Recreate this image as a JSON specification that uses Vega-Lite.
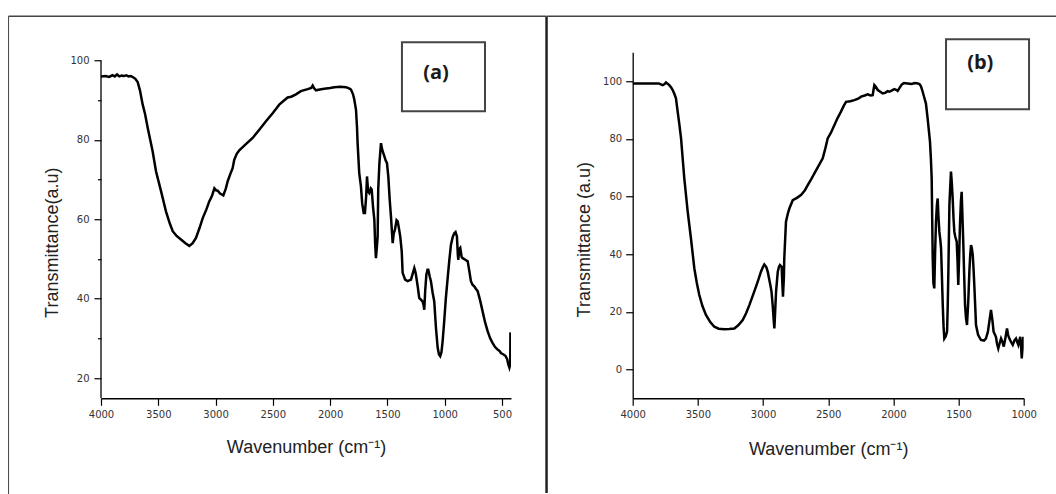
{
  "$schema": "https://vega.github.io/schema/vega-lite/v6.json",
  "background": "white",
  "padding": {"left": 7, "top": 14.25, "right": 0, "bottom": 0},
  "config": {
    "view": {"stroke": null},
    "axis": {
      "grid": false,
      "domainColor": "#000",
      "domainWidth": 1.3,
      "tickColor": "#000",
      "tickWidth": 1.2,
      "labelFont": "DejaVu Sans",
      "labelFontSize": 10,
      "labelColor": "#333",
      "labelOverlap": false,
      "labelFlush": false,
      "titleFont": "Liberation Sans",
      "titleFontSize": 18,
      "titleFontWeight": "normal",
      "titleColor": "#222"
    }
  },
  "datasets": {
    "a": [
      {"w":4000,"t":96.0},{"w":3960,"t":96.1},{"w":3930,"t":95.9},{"w":3900,"t":96.3},{"w":3880,"t":96.0},{"w":3860,"t":96.5},{"w":3840,"t":96.0},{"w":3820,"t":96.2},{"w":3800,"t":96.1},{"w":3780,"t":96.3},{"w":3760,"t":96.0},{"w":3740,"t":96.1},{"w":3720,"t":95.8},{"w":3700,"t":95.4},{"w":3680,"t":94.6},{"w":3660,"t":92.5},{"w":3636,"t":88.9},{"w":3615,"t":86.5},{"w":3592,"t":83.0},{"w":3570,"t":80.0},{"w":3549,"t":77.1},{"w":3520,"t":72.1},{"w":3476,"t":67.1},{"w":3433,"t":62.0},{"w":3400,"t":59.0},{"w":3374,"t":57.0},{"w":3340,"t":55.8},{"w":3302,"t":54.9},{"w":3260,"t":53.9},{"w":3229,"t":53.3},{"w":3200,"t":54.0},{"w":3171,"t":55.3},{"w":3140,"t":57.8},{"w":3112,"t":60.3},{"w":3080,"t":62.5},{"w":3055,"t":64.5},{"w":3030,"t":66.0},{"w":3010,"t":67.8},{"w":2995,"t":67.3},{"w":2982,"t":67.2},{"w":2960,"t":66.5},{"w":2932,"t":66.0},{"w":2910,"t":67.8},{"w":2894,"t":69.6},{"w":2870,"t":71.5},{"w":2851,"t":72.9},{"w":2837,"t":75.0},{"w":2815,"t":76.5},{"w":2793,"t":77.4},{"w":2740,"t":78.8},{"w":2676,"t":80.5},{"w":2620,"t":82.5},{"w":2560,"t":84.7},{"w":2500,"t":86.8},{"w":2444,"t":88.9},{"w":2400,"t":90.0},{"w":2371,"t":90.7},{"w":2340,"t":90.9},{"w":2298,"t":91.5},{"w":2255,"t":92.3},{"w":2196,"t":92.8},{"w":2165,"t":93.1},{"w":2152,"t":93.7},{"w":2140,"t":93.0},{"w":2123,"t":92.5},{"w":2090,"t":92.7},{"w":2051,"t":92.9},{"w":2000,"t":93.1},{"w":1964,"t":93.3},{"w":1910,"t":93.4},{"w":1862,"t":93.3},{"w":1835,"t":93.0},{"w":1818,"t":92.7},{"w":1800,"t":91.5},{"w":1789,"t":90.2},{"w":1774,"t":87.6},{"w":1765,"t":83.0},{"w":1760,"t":79.2},{"w":1746,"t":71.7},{"w":1731,"t":68.3},{"w":1720,"t":64.0},{"w":1707,"t":61.6},{"w":1696,"t":61.6},{"w":1685,"t":66.0},{"w":1678,"t":70.8},{"w":1668,"t":67.0},{"w":1658,"t":66.6},{"w":1645,"t":67.8},{"w":1637,"t":67.5},{"w":1625,"t":63.0},{"w":1614,"t":59.9},{"w":1607,"t":54.0},{"w":1600,"t":50.2},{"w":1592,"t":53.0},{"w":1585,"t":55.7},{"w":1580,"t":67.5},{"w":1570,"t":74.0},{"w":1556,"t":79.2},{"w":1545,"t":77.5},{"w":1527,"t":75.9},{"w":1515,"t":74.8},{"w":1504,"t":74.2},{"w":1492,"t":70.8},{"w":1480,"t":65.0},{"w":1469,"t":60.8},{"w":1454,"t":54.0},{"w":1444,"t":56.5},{"w":1434,"t":57.4},{"w":1420,"t":59.8},{"w":1410,"t":59.5},{"w":1398,"t":57.5},{"w":1388,"t":55.7},{"w":1375,"t":52.0},{"w":1367,"t":46.5},{"w":1345,"t":44.8},{"w":1323,"t":44.4},{"w":1294,"t":44.8},{"w":1265,"t":47.7},{"w":1258,"t":47.0},{"w":1251,"t":46.1},{"w":1235,"t":43.0},{"w":1222,"t":40.2},{"w":1193,"t":39.3},{"w":1185,"t":38.5},{"w":1178,"t":37.2},{"w":1170,"t":42.0},{"w":1160,"t":46.0},{"w":1150,"t":47.3},{"w":1143,"t":47.3},{"w":1130,"t":45.5},{"w":1120,"t":44.4},{"w":1105,"t":41.5},{"w":1091,"t":39.3},{"w":1076,"t":32.6},{"w":1061,"t":27.6},{"w":1050,"t":26.0},{"w":1039,"t":25.5},{"w":1028,"t":26.5},{"w":1018,"t":29.2},{"w":1004,"t":34.3},{"w":990,"t":40.0},{"w":974,"t":45.2},{"w":960,"t":49.5},{"w":945,"t":53.6},{"w":930,"t":55.5},{"w":916,"t":56.5},{"w":905,"t":56.8},{"w":893,"t":55.7},{"w":885,"t":51.0},{"w":881,"t":49.8},{"w":872,"t":52.5},{"w":864,"t":52.8},{"w":852,"t":50.5},{"w":843,"t":50.2},{"w":820,"t":49.8},{"w":799,"t":49.4},{"w":785,"t":47.0},{"w":771,"t":44.4},{"w":757,"t":43.5},{"w":742,"t":43.1},{"w":728,"t":42.5},{"w":712,"t":41.9},{"w":690,"t":39.5},{"w":669,"t":36.8},{"w":647,"t":34.0},{"w":625,"t":31.8},{"w":603,"t":30.0},{"w":581,"t":28.8},{"w":560,"t":27.8},{"w":538,"t":27.2},{"w":520,"t":26.8},{"w":509,"t":26.3},{"w":490,"t":26.0},{"w":470,"t":25.6},{"w":455,"t":24.8},{"w":445,"t":23.5},{"w":435,"t":22.6},{"w":430,"t":23.2},{"w":428,"t":22.8},{"w":426,"t":31.5}
    ],
    "b": [
      {"w":4000,"t":99.2},{"w":3900,"t":99.2},{"w":3800,"t":99.2},{"w":3780,"t":98.8},{"w":3770,"t":98.6},{"w":3755,"t":99.0},{"w":3745,"t":99.5},{"w":3730,"t":99.0},{"w":3719,"t":98.6},{"w":3705,"t":97.8},{"w":3693,"t":96.9},{"w":3680,"t":95.5},{"w":3668,"t":94.0},{"w":3655,"t":89.4},{"w":3642,"t":85.0},{"w":3629,"t":80.1},{"w":3604,"t":66.2},{"w":3578,"t":54.7},{"w":3553,"t":45.4},{"w":3527,"t":35.0},{"w":3508,"t":30.0},{"w":3489,"t":25.8},{"w":3465,"t":22.0},{"w":3438,"t":18.9},{"w":3405,"t":16.4},{"w":3374,"t":14.8},{"w":3340,"t":14.1},{"w":3297,"t":13.9},{"w":3260,"t":14.0},{"w":3220,"t":14.2},{"w":3190,"t":15.3},{"w":3156,"t":17.1},{"w":3130,"t":19.5},{"w":3105,"t":22.3},{"w":3080,"t":25.4},{"w":3054,"t":28.7},{"w":3035,"t":31.2},{"w":3016,"t":33.9},{"w":3000,"t":35.6},{"w":2990,"t":36.4},{"w":2975,"t":35.5},{"w":2964,"t":33.9},{"w":2944,"t":29.3},{"w":2935,"t":27.0},{"w":2926,"t":22.3},{"w":2918,"t":17.0},{"w":2913,"t":14.2},{"w":2907,"t":20.0},{"w":2900,"t":27.0},{"w":2887,"t":33.9},{"w":2878,"t":35.5},{"w":2870,"t":36.2},{"w":2857,"t":35.6},{"w":2852,"t":30.0},{"w":2847,"t":25.2},{"w":2840,"t":32.0},{"w":2837,"t":38.5},{"w":2824,"t":51.2},{"w":2810,"t":54.0},{"w":2798,"t":55.8},{"w":2772,"t":58.7},{"w":2740,"t":59.5},{"w":2709,"t":60.5},{"w":2680,"t":62.0},{"w":2657,"t":63.9},{"w":2630,"t":66.0},{"w":2606,"t":68.0},{"w":2575,"t":70.5},{"w":2542,"t":73.2},{"w":2520,"t":77.0},{"w":2504,"t":80.1},{"w":2480,"t":82.0},{"w":2453,"t":84.7},{"w":2430,"t":87.0},{"w":2402,"t":89.4},{"w":2380,"t":91.5},{"w":2363,"t":92.8},{"w":2330,"t":93.0},{"w":2300,"t":93.4},{"w":2270,"t":93.9},{"w":2248,"t":94.6},{"w":2220,"t":95.0},{"w":2197,"t":95.4},{"w":2175,"t":95.0},{"w":2159,"t":95.1},{"w":2152,"t":97.0},{"w":2146,"t":98.6},{"w":2135,"t":98.0},{"w":2120,"t":96.9},{"w":2100,"t":96.3},{"w":2082,"t":95.7},{"w":2060,"t":96.0},{"w":2044,"t":96.5},{"w":2031,"t":96.3},{"w":2010,"t":96.8},{"w":1993,"t":97.2},{"w":1975,"t":96.9},{"w":1967,"t":96.6},{"w":1950,"t":97.8},{"w":1936,"t":98.8},{"w":1920,"t":99.3},{"w":1890,"t":99.2},{"w":1860,"t":99.0},{"w":1835,"t":99.3},{"w":1813,"t":99.2},{"w":1800,"t":99.0},{"w":1788,"t":98.2},{"w":1775,"t":96.3},{"w":1763,"t":94.3},{"w":1750,"t":92.2},{"w":1737,"t":87.0},{"w":1728,"t":83.0},{"w":1719,"t":79.0},{"w":1712,"t":73.0},{"w":1706,"t":66.2},{"w":1702,"t":52.0},{"w":1698,"t":38.5},{"w":1693,"t":30.0},{"w":1686,"t":28.1},{"w":1680,"t":40.0},{"w":1673,"t":51.2},{"w":1666,"t":57.0},{"w":1660,"t":59.3},{"w":1654,"t":53.0},{"w":1647,"t":47.7},{"w":1640,"t":45.0},{"w":1634,"t":42.0},{"w":1628,"t":33.0},{"w":1621,"t":22.3},{"w":1615,"t":15.0},{"w":1609,"t":10.7},{"w":1598,"t":11.5},{"w":1588,"t":13.1},{"w":1583,"t":22.0},{"w":1578,"t":33.9},{"w":1570,"t":57.0},{"w":1563,"t":64.0},{"w":1558,"t":68.6},{"w":1552,"t":65.0},{"w":1545,"t":59.3},{"w":1538,"t":52.0},{"w":1532,"t":47.7},{"w":1525,"t":46.0},{"w":1514,"t":44.3},{"w":1508,"t":38.0},{"w":1502,"t":29.3},{"w":1496,"t":38.0},{"w":1489,"t":50.1},{"w":1482,"t":58.0},{"w":1476,"t":61.6},{"w":1470,"t":53.0},{"w":1463,"t":43.1},{"w":1457,"t":33.0},{"w":1450,"t":22.3},{"w":1443,"t":18.0},{"w":1435,"t":15.4},{"w":1425,"t":24.0},{"w":1417,"t":33.9},{"w":1410,"t":40.0},{"w":1404,"t":43.1},{"w":1398,"t":42.0},{"w":1391,"t":39.7},{"w":1385,"t":35.0},{"w":1379,"t":29.3},{"w":1372,"t":22.0},{"w":1366,"t":15.4},{"w":1350,"t":12.0},{"w":1328,"t":10.2},{"w":1305,"t":10.0},{"w":1290,"t":10.7},{"w":1275,"t":13.0},{"w":1264,"t":16.5},{"w":1251,"t":20.6},{"w":1240,"t":17.0},{"w":1231,"t":13.1},{"w":1213,"t":11.3},{"w":1205,"t":9.0},{"w":1195,"t":7.3},{"w":1185,"t":9.0},{"w":1174,"t":10.7},{"w":1163,"t":9.5},{"w":1153,"t":7.9},{"w":1140,"t":11.0},{"w":1128,"t":14.2},{"w":1120,"t":12.0},{"w":1110,"t":10.7},{"w":1097,"t":9.5},{"w":1084,"t":8.5},{"w":1072,"t":10.0},{"w":1059,"t":10.7},{"w":1050,"t":9.5},{"w":1041,"t":8.5},{"w":1034,"t":10.0},{"w":1026,"t":11.3},{"w":1020,"t":8.0},{"w":1015,"t":3.8},{"w":1008,"t":7.0},{"w":1003,"t":11.3}
    ]
  },
  "hconcat": [
    {
      "width": 410,
      "height": 346,
      "layer": [
        {
          "data": {"name": "a"},
          "mark": {"type": "line", "color": "#000", "strokeWidth": 2.5, "clip": true},
          "encoding": {
            "x": {
              "field": "w", "type": "quantitative",
              "scale": {"domain": [421, 4000], "reverse": true, "nice": false, "zero": false},
              "axis": {
                "title": "Wavenumber (cm⁻¹)",
                "values": [4000,3750,3500,3250,3000,2750,2500,2250,2000,1750,1500,1250,1000,750,500],
                "format": "d",
                "labelExpr": "datum.value % 500 === 0 ? datum.label : ''",
                "tickSize": {"condition": {"test": "datum.value % 500 === 0", "value": 7}, "value": 3.5},
                "labelPadding": 4,
                "titleY": 49,
                "titleBaseline": "middle"
              }
            },
            "y": {
              "field": "t", "type": "quantitative",
              "scale": {"domain": [14.9, 102.1], "nice": false, "zero": false},
              "axis": {
                "title": "Transmittance(a.u)",
                "domain": false,
                "values": [20,30,40,50,60,70,80,90,100],
                "labelExpr": "datum.value % 20 === 0 ? datum.label : ''",
                "tickSize": {"condition": {"test": "datum.value % 20 === 0", "value": 7}, "value": 3.5},
                "labelPadding": 5,
                "titleX": -49,
                "titleY": 190,
                "titleAlign": "center",
                "titleBaseline": "middle",
                "titleAngle": -90
              }
            }
          }
        },
        {
          "data": {"values": [{}]},
          "mark": {"type": "rule", "color": "#000", "strokeWidth": 1.3},
          "encoding": {
            "x": {"datum": 4000, "type": "quantitative"},
            "y": {"datum": 14.9, "type": "quantitative"},
            "y2": {"datum": 100}
          }
        },
        {
          "data": {"values": [{}]},
          "mark": {"type": "rule", "color": "#444", "strokeWidth": 1},
          "encoding": {
            "x": {"datum": 4807, "type": "quantitative"},
            "y": {"datum": 111.2, "type": "quantitative"},
            "y2": {"datum": -9.3}
          }
        },
        {
          "data": {"values": [{}]},
          "mark": {"type": "rule", "color": "#444", "strokeWidth": 1.5},
          "encoding": {
            "x": {"datum": 4807, "type": "quantitative"},
            "x2": {"datum": 116},
            "y": {"datum": 111.2, "type": "quantitative"}
          }
        },
        {
          "data": {"values": [{}]},
          "mark": {"type": "rect", "filled": false, "stroke": "#444", "strokeWidth": 2},
          "encoding": {
            "x": {"datum": 1373, "type": "quantitative"},
            "x2": {"datum": 648},
            "y": {"datum": 104.6, "type": "quantitative"},
            "y2": {"datum": 87.2}
          }
        },
        {
          "data": {"values": [{}]},
          "mark": {"type": "text", "text": "(a)", "font": "Open Sans", "fontWeight": "bold", "fontSize": 20, "color": "#1a1a1a", "align": "center", "baseline": "middle"},
          "encoding": {
            "x": {"datum": 1076, "type": "quantitative"},
            "y": {"datum": 96.9, "type": "quantitative"}
          }
        }
      ]
    },
    {
      "width": 391,
      "height": 346,
      "layer": [
        {
          "data": {"name": "b"},
          "mark": {"type": "line", "color": "#000", "strokeWidth": 2.5, "clip": true},
          "encoding": {
            "x": {
              "field": "w", "type": "quantitative",
              "scale": {"domain": [1000, 4000], "reverse": true, "nice": false, "zero": false},
              "axis": {
                "title": "Wavenumber (cm⁻¹)",
                "values": [4000,3750,3500,3250,3000,2750,2500,2250,2000,1750,1500,1250,1000],
                "format": "d",
                "labelExpr": "datum.value % 500 === 0 ? datum.label : ''",
                "tickSize": {"condition": {"test": "datum.value % 500 === 0", "value": 7}, "value": 3.5},
                "labelPadding": 4,
                "titleY": 51,
                "titleBaseline": "middle"
              }
            },
            "y": {
              "field": "t", "type": "quantitative",
              "scale": {"domain": [-10, 110], "nice": false, "zero": false},
              "axis": {
                "title": "Transmittance (a.u)",
                "values": [0,10,20,30,40,50,60,70,80,90,100,110],
                "labelExpr": "datum.value % 20 === 0 && datum.value <= 100 ? datum.label : ''",
                "tickSize": {"condition": {"test": "datum.value % 20 === 0 && datum.value <= 100", "value": 7}, "value": 3.5},
                "labelPadding": 4,
                "titleX": -48,
                "titleY": 187,
                "titleAlign": "center",
                "titleBaseline": "middle",
                "titleAngle": -90
              }
            }
          }
        },
        {
          "data": {"values": [{}]},
          "mark": {"type": "rule", "color": "#222", "strokeWidth": 2.5},
          "encoding": {
            "x": {"datum": 4661, "type": "quantitative"},
            "y": {"datum": 122.5, "type": "quantitative"},
            "y2": {"datum": -42.9}
          }
        },
        {
          "data": {"values": [{}]},
          "mark": {"type": "rule", "color": "#444", "strokeWidth": 1.5},
          "encoding": {
            "x": {"datum": 4661, "type": "quantitative"},
            "x2": {"datum": 752},
            "y": {"datum": 122.5, "type": "quantitative"}
          }
        },
        {
          "data": {"values": [{}]},
          "mark": {"type": "rect", "filled": false, "stroke": "#444", "strokeWidth": 2},
          "encoding": {
            "x": {"datum": 1596, "type": "quantitative"},
            "x2": {"datum": 959},
            "y": {"datum": 114.5, "type": "quantitative"},
            "y2": {"datum": 90.2}
          }
        },
        {
          "data": {"values": [{}]},
          "mark": {"type": "text", "text": "(b)", "font": "Open Sans", "fontWeight": "bold", "fontSize": 20, "color": "#1a1a1a", "align": "center", "baseline": "middle"},
          "encoding": {
            "x": {"datum": 1333, "type": "quantitative"},
            "y": {"datum": 106.3, "type": "quantitative"}
          }
        }
      ]
    }
  ],
  "spacing": 121.7,
  "bounds": "flush"
}
